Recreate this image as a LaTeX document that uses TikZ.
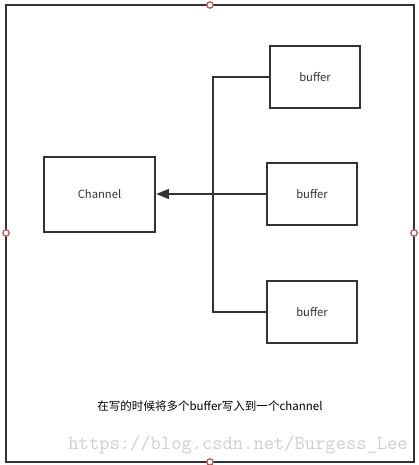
\documentclass[tikz,border=0pt]{standalone}
\usepackage{fontspec}
\setmainfont{Noto Sans CJK SC}
\usetikzlibrary{arrows.meta,positioning}
\definecolor{linegray}{HTML}{333333}
\definecolor{markgray}{HTML}{D2CECA}
\definecolor{handlered}{HTML}{C0504D}

\begin{document}
\begin{tikzpicture}[
  x=0.25mm, y=-0.25mm,
  node distance=13.6mm,
  box/.style={draw=linegray, line width=0.5mm, minimum width=22.5mm,
    minimum height=15.5mm, inner sep=0pt, font=\fontsize{8}{9}\selectfont,
    text=linegray},
  chanbox/.style={box, minimum width=27.75mm, minimum height=18.75mm},
  wire/.style={draw=linegray, line width=0.5mm},
  arr/.style={wire, -{Triangle[length=3.2mm,width=2.4mm]}},
  handle/.style={draw=handlered, fill=white, line width=0.3mm, circle,
    minimum size=1.6mm, inner sep=0pt}
]
\useasboundingbox (0,0) rectangle (419,465);
% outer frame
\draw[line width=0.55mm, draw=linegray] (6,5) rectangle (414,462);
\node[handle] (htop) at (210,5) {};
\node[handle] (hleft) at (6,233) {};
\node[handle] (hright) at (414,233) {};
\node[handle] (hbot) at (210,462) {};

\node[chanbox] (chan) at (99.5,194) {Channel};
\node[box] (buf2) at (312,194) {buffer};
\node[box, above=of buf2, xshift=0.75mm, yshift=-0.3mm] (buf1) {buffer};
\node[box, below=of buf2, yshift=0.2mm] (buf3) {buffer};
\coordinate (spine) at (213,194);

\draw[wire] (buf1.west) -| (spine) |- (buf3.west);
\draw[arr] (buf2.west) -- (chan.east);

\node[font=\fontsize{8.2}{9}\selectfont, text=black] (caption) at (210,406)
  {在写的时候将多个buffer写入到一个channel};
\node[font=\ttfamily\fontsize{14.2}{15}\selectfont, text=markgray, anchor=east,
  inner sep=0pt] (mark) at (408,445) {https://blog.csdn.net/Burgess\_Lee};
\end{tikzpicture}
\end{document}
